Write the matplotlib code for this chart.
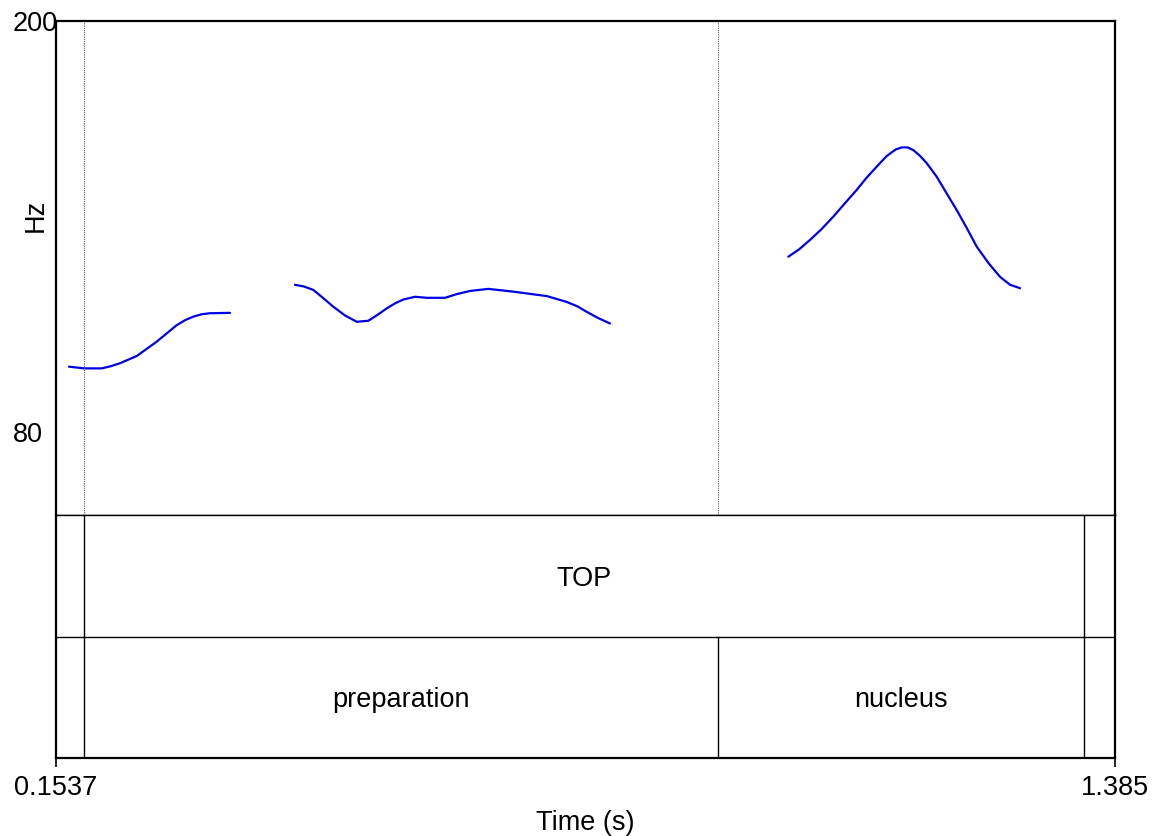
import numpy as np
import matplotlib
matplotlib.use("Agg")
import matplotlib.pyplot as plt

plt.rcParams['font.family'] = ['Liberation Sans', 'DejaVu Sans']

t_start = 0.1537
t_end = 1.385

# pitch contour pieces (time in s, f0 in Hz)
seg1_t = [0.1688, 0.1866, 0.2068, 0.2170, 0.2281, 0.2475, 0.2708, 0.2940, 0.3040,
          0.3134, 0.3230, 0.3328, 0.3560]
seg1_hz = [99.1, 98.6, 98.6, 99.2, 100.1, 102.2, 106.4, 111.2, 112.7,
           113.7, 114.4, 114.7, 114.8]

seg2_t = [0.4316, 0.4420, 0.4529, 0.4640, 0.4761, 0.4900, 0.5034, 0.5168, 0.5280,
          0.5382, 0.5480, 0.5575, 0.5711, 0.5847, 0.6060, 0.6200, 0.6351, 0.6564,
          0.6854, 0.7243, 0.7475, 0.7600, 0.7708, 0.7840, 0.7979]
seg2_hz = [123.0, 122.5, 121.5, 119.2, 116.6, 114.0, 112.2, 112.5, 114.3,
           116.1, 117.6, 118.7, 119.5, 119.2, 119.2, 120.3, 121.2, 121.8,
           121.0, 119.7, 118.0, 116.7, 115.1, 113.3, 111.7]

seg3_t = [1.0052, 1.0180, 1.0304, 1.0440, 1.0575, 1.0710, 1.0847, 1.0960, 1.1080,
          1.1196, 1.1300, 1.1371, 1.1440, 1.1506, 1.1580, 1.1661, 1.1778, 1.1890,
          1.2010, 1.2130, 1.2243, 1.2380, 1.2514, 1.2630, 1.2746]
seg3_hz = [131.2, 133.4, 136.1, 139.3, 142.9, 146.8, 150.7, 154.2, 157.5,
           160.6, 162.5, 163.1, 163.1, 162.3, 160.7, 158.5, 154.5, 149.8,
           144.8, 139.4, 134.1, 129.3, 125.3, 123.0, 122.0]

# textgrid tiers
top_bounds = [0.1863, 1.349]
top_labels = ["TOP"]
phase_bounds = [0.1863, 0.9235, 1.349]
phase_labels = ["preparation", "nucleus"]

y_ticks = [80, 200]
y_bottom = 55.8
y_top = 200

FS = 19.5

fig = plt.figure(figsize=(11.64, 8.36), dpi=100)
left = 56 / 1164
width = (1115 - 56) / 1164
ax = fig.add_axes([left, 1 - 515 / 836, width, (515 - 21) / 836])
ax2 = fig.add_axes([left, 1 - 758 / 836, width, (758 - 515) / 836])

for seg_t, seg_hz in [(seg1_t, seg1_hz), (seg2_t, seg2_hz), (seg3_t, seg3_hz)]:
    ax.plot(seg_t, seg_hz, color=(0.0, 0.0, 0.9), lw=1.6,
            solid_capstyle='round', solid_joinstyle='round')

# dotted boundary marks in pitch area
for b in phase_bounds[:2]:
    ax.axvline(b, color='0.35', lw=0.8, linestyle=(0, (1, 1)))

ax.set_xlim(t_start, t_end)
ax.set_ylim(y_bottom, y_top)
ax.set_xticks([])
ax.set_yticks(y_ticks)
ax.set_yticklabels([str(v) for v in y_ticks], fontsize=FS)
for lab in ax.get_yticklabels():
    lab.set_horizontalalignment('left')
ax.tick_params(axis='y', length=0, pad=31)
ax.set_ylabel("Hz", fontsize=FS)
ax.yaxis.set_label_coords(-0.019, 0.607)
ax.yaxis.label.set_verticalalignment('center')
for s in ['top', 'left', 'right']:
    ax.spines[s].set_linewidth(1.6)
ax.spines['bottom'].set_linewidth(1.0)

# tiers
ax2.set_xlim(t_start, t_end)
ax2.set_ylim(0, 2)
ax2.axhline(1, color='black', lw=1.0)
for b in top_bounds:
    ax2.plot([b, b], [1, 2], color='black', lw=1.0)
for b in phase_bounds:
    ax2.plot([b, b], [0, 1], color='black', lw=1.0)
for i, lab in enumerate(top_labels):
    ax2.text((top_bounds[i] + top_bounds[i + 1]) / 2, 1.475, lab, ha='center', va='center', fontsize=FS)
for i, lab in enumerate(phase_labels):
    ax2.text((phase_bounds[i] + phase_bounds[i + 1]) / 2, 0.475, lab, ha='center', va='center', fontsize=FS)

ax2.set_yticks([])
ax2.set_xticks([t_start, t_end])
ax2.set_xticklabels(["0.1537", "1.385"], fontsize=FS)
ax2.tick_params(axis='x', length=6.5, width=1.2, pad=6)
ax2.set_xlabel("Time (s)", fontsize=FS, labelpad=6)
for s in ['bottom', 'left', 'right']:
    ax2.spines[s].set_linewidth(1.6)
ax2.spines['top'].set_linewidth(1.0)

fig.savefig("out.png", dpi=100)
